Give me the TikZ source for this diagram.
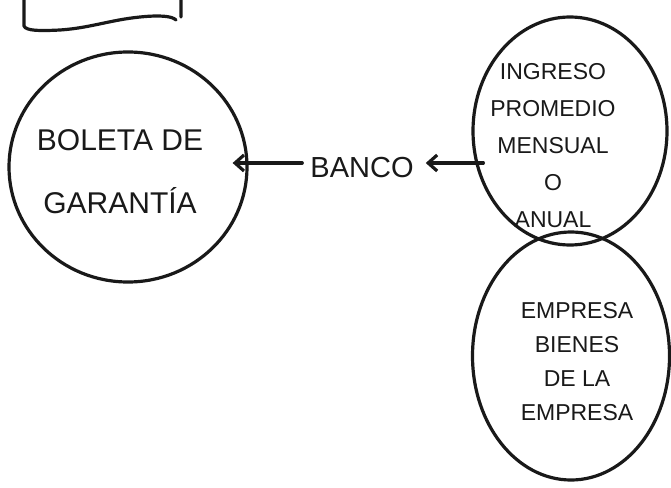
\documentclass[tikz,border=0pt]{standalone}
\usepackage{fontspec}
\setmainfont{Liberation Sans}
\usetikzlibrary{shapes.geometric,arrows.meta}
\tikzset{
  ink/.style={draw=black!90, line width=3.2pt, line cap=round, line join=round},
  bubble/.style={ink, ellipse, inner sep=0pt},
  bigtxt/.style={font=\fontsize{30}{63}\selectfont, align=center, text=black!90},
  midtxt/.style={font=\fontsize{23}{37}\selectfont, align=center, text=black!90},
  lowtxt/.style={font=\fontsize{23}{34}\selectfont, align=center, text=black!90},
  arr/.style={ink, -{Straight Barb[length=9pt,width=16pt,line width=3.2pt]}}
}
\begin{document}
\begin{tikzpicture}[x=1pt,y=-1pt]
\useasboundingbox[fill=white] (0,0) rectangle (671,487);
% partial box at top
\draw[ink] (24,-4) -- (24,26) .. controls (26,31) and (40,31) .. (60,30)
  .. controls (90,28) and (110,20) .. (140,17) .. controls (160,15) and (172,16) .. (176,20)
  (181,17) -- (181,-4);
% left bubble
\node[bubble, minimum width=238pt, minimum height=230pt] (boleta) at (128,167) {};
\node[bigtxt] (boletatxt) at (120,172) {BOLETA DE\\GARANTÍA};
% bank
\node[font=\fontsize{29}{34}\selectfont, text=black!90, inner sep=2pt] (banco) at (362,168) {BANCO};
% right top bubble
\node[bubble, minimum width=194pt, minimum height=228pt] (ingreso) at (570,131) {};
\node[midtxt] (ingresotxt) at (553,146) {INGRESO\\PROMEDIO\\MENSUAL\\O\\ANUAL};
% right bottom bubble
\node[bubble, minimum width=197pt, minimum height=248pt] (empresa) at (571,356) {};
\node[lowtxt] (empresatxt) at (577,362) {EMPRESA\\BIENES\\DE LA\\EMPRESA};
% arrows
\draw[arr] ([xshift=-6pt,yshift=5pt]banco.west) -- ([xshift=-16pt,yshift=4pt]boleta.east);
\draw[arr] ([xshift=12pt,yshift=-32pt]ingreso.west) -- ([xshift=10pt,yshift=5pt]banco.east);
\end{tikzpicture}
\end{document}
